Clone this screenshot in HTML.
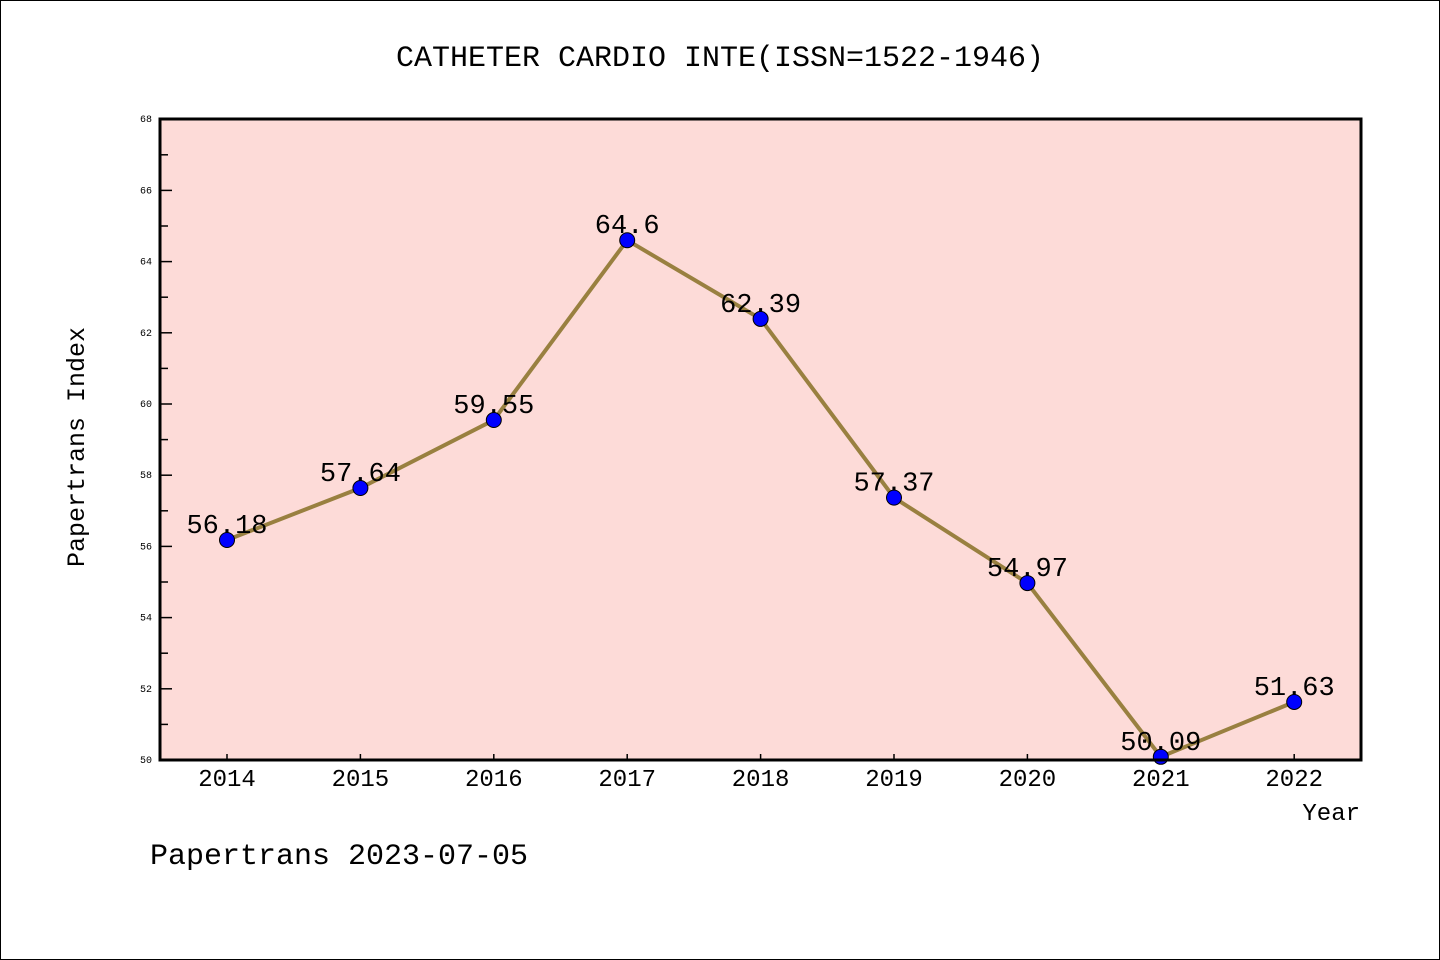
<!DOCTYPE html>
<html><head><meta charset="utf-8"><style>
html,body{margin:0;padding:0;background:#fff;}
svg{display:block;font-family:"Liberation Mono",monospace;}
</style></head><body>
<svg id="chart" width="1440" height="960">
<rect x="0.5" y="0.5" width="1439" height="959" fill="#fff" stroke="#000"/>
<text x="720" y="66" font-size="30" text-anchor="middle">CATHETER CARDIO INTE(ISSN=1522-1946)</text>
<rect x="160" y="119" width="1201" height="641" fill="#fddbd8"/>
<g id="yt"></g><g id="xt"></g><g id="series"></g>
<rect x="160" y="119" width="1201" height="641" fill="none" stroke="#000" stroke-width="3"/>
<text x="84" y="447" font-size="25" text-anchor="middle" transform="rotate(-90 84 447)">Papertrans Index</text>
<text x="1360" y="820" font-size="24" text-anchor="end">Year</text>
<text x="150" y="864" font-size="30">Papertrans 2023-07-05</text>
</svg>
<script>
const years=[2014,2015,2016,2017,2018,2019,2020,2021,2022];
const values=[56.18,57.64,59.55,64.6,62.39,57.37,54.97,50.09,51.63];
const labels=["56.18","57.64","59.55","64.6","62.39","57.37","54.97","50.09","51.63"];
const yTicks=[50,52,54,56,58,60,62,64,66,68];
const NS="http://www.w3.org/2000/svg";
const x=i=>227+i*133.4;
const y=v=>760-(v-50)*35.6;
function mk(t,a,p){const e=document.createElementNS(NS,t);for(const k in a)e.setAttribute(k,a[k]);p.appendChild(e);return e;}
const yt=document.getElementById('yt'),xt=document.getElementById('xt'),s=document.getElementById('series');
yTicks.forEach(v=>{
 const l=mk('line',{x1:160,x2:172,y1:y(v),y2:y(v),stroke:'#000','stroke-width':1.5},yt);
 
 
 if(v<68){const m=mk('line',{x1:160,x2:168,y1:y(v+1),y2:y(v+1),stroke:'#000','stroke-width':1.5},yt);
 
 }
 const t=mk('text',{x:152,y:y(v)+3,'font-size':10,'text-anchor':'end'},yt);t.textContent=v;
 
 
});
years.forEach((yr,i)=>{
 const l=mk('line',{x1:x(i),x2:x(i),y1:760,y2:754,stroke:'#000','stroke-width':1.5},xt);
 
 
 const t=mk('text',{x:x(i),y:786,'font-size':24,'text-anchor':'middle'},xt);t.textContent=yr;
 
 
});
const pl=mk('polyline',{points:values.map((v,i)=>x(i)+','+y(v)).join(' '),fill:'none',stroke:'#998040','stroke-width':4},s);


values.forEach((v,i)=>{
 const c=mk('circle',{cx:x(i),cy:y(v),r:7.5,fill:'#0000ff',stroke:'#000','stroke-width':1},s);
 
 
 const t=mk('text',{x:x(i),y:y(v)-7,'font-size':27,'text-anchor':'middle'},s);t.textContent=labels[i];
 
 
});
</script>
</body></html>
